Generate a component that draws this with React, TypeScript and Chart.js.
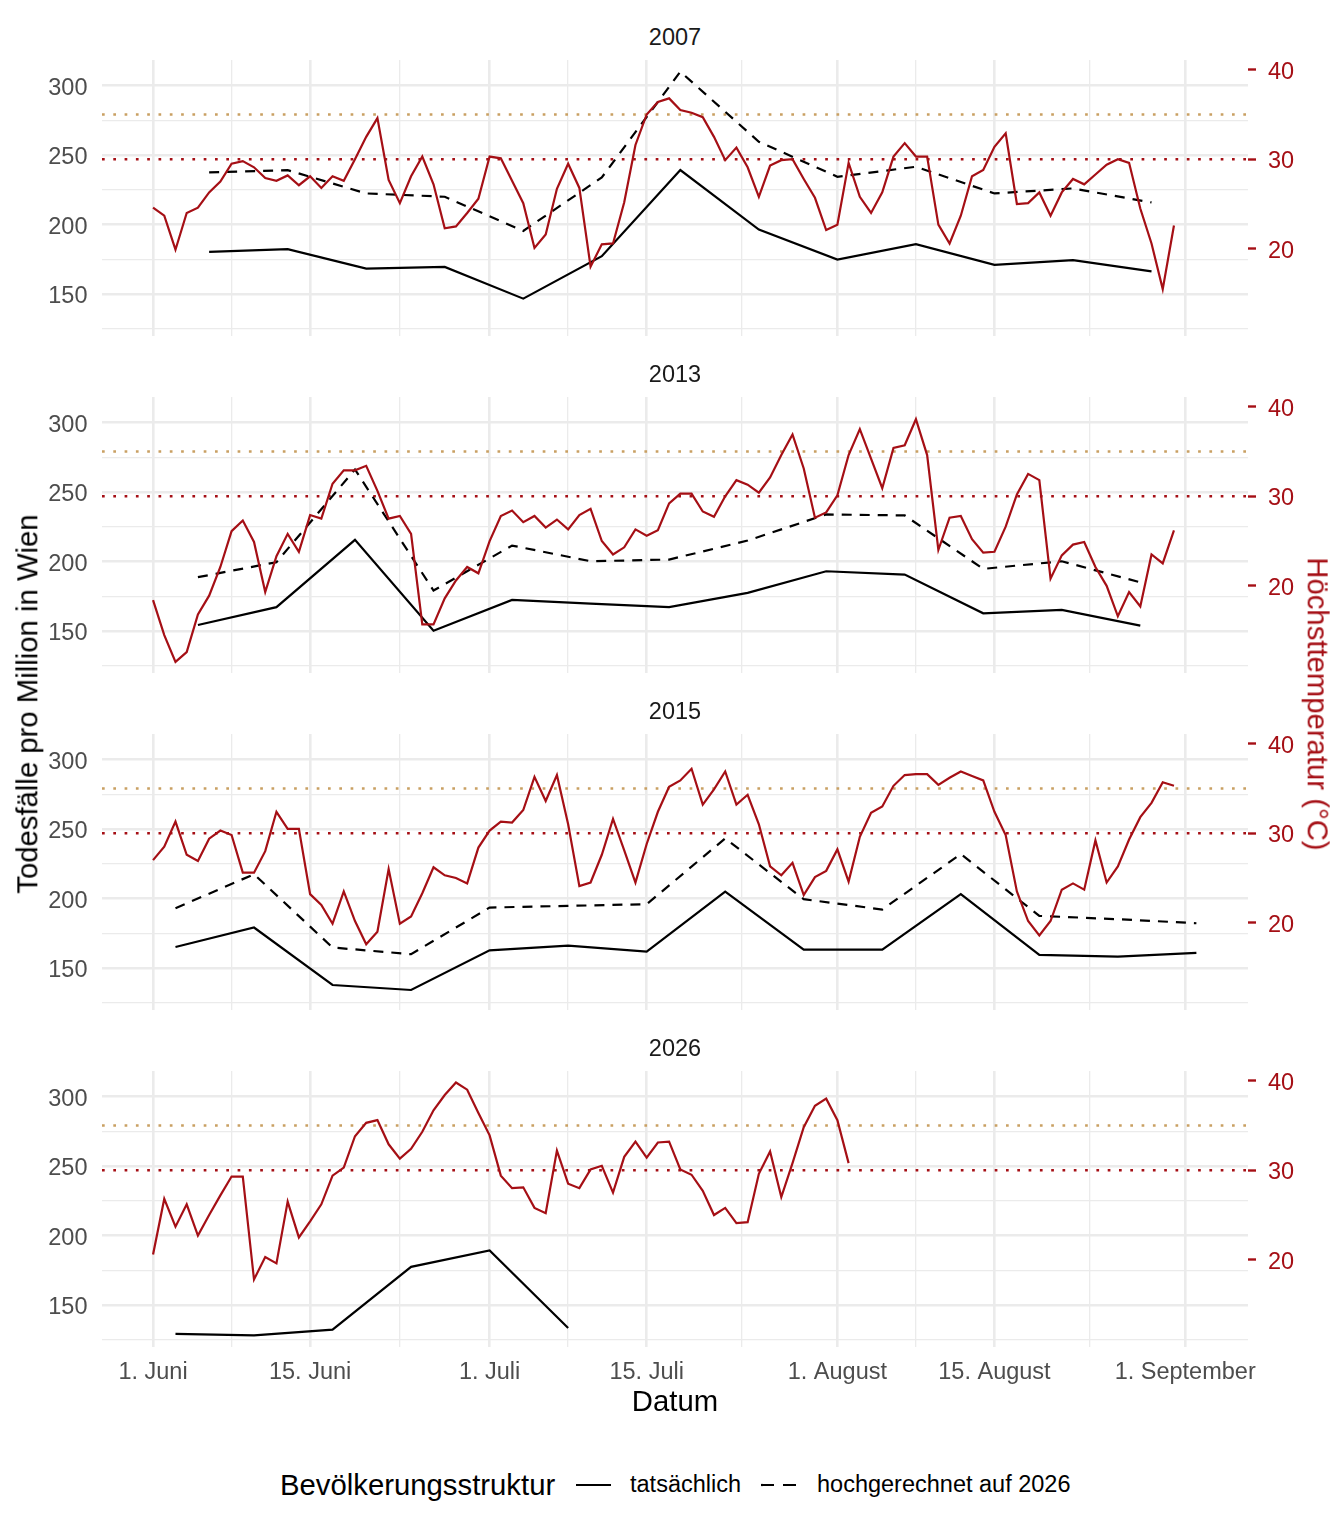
import React, { useEffect, useRef } from "react";
import { Chart, registerables } from "chart.js";

Chart.register(...registerables);

const FONT = "'Liberation Sans', Arial, Helvetica, sans-serif";
const RED = "#a50f15";
const TAN = "#c9a063";
const GRID = "#ebebeb";
const AXIS_TEXT = "#4d4d4d";

// x axis in days since 1 June
const X_MIN = -4.55;
const X_MAX = 97.6;
const MAJOR_DAYS = [0, 14, 30, 44, 61, 75, 92];
const MAJOR_LABELS = ["1. Juni", "15. Juni", "1. Juli", "15. Juli", "1. August", "15. August", "1. September"];
const MINOR_DAYS = [7, 22, 37, 52.5, 68, 83.5];

// left axis (deaths per million) and secondary temperature axis
const DEATH_MIN = 119.7;
const DEATH_MAX = 318.5;
const DEATH_TICKS = [125, 150, 175, 200, 225, 250, 275, 300];
const TEMP_TICKS = [20, 30, 40];
const TEMP_SCALE = 6.45;
const TEMP_OFFSET = 53.5;
const THRESHOLDS = [30, 35];

// daily maximum temperature, from 1 June
const TEMP_2007 = [
  24.6, 23.7, 19.9, 24.0, 24.6, 26.3, 27.5, 29.5, 29.8, 29.1,
  27.9, 27.6, 28.2, 27.1, 28.1, 26.8, 28.1, 27.6, 30.0, 32.5,
  34.6, 27.7, 25.1, 28.1, 30.3, 27.2, 22.3, 22.5, 24.0, 25.6,
  30.3, 30.1, 27.6, 25.1, 20.1, 21.6, 26.7, 29.5, 26.8, 18.0,
  20.5, 20.6, 25.2, 31.6, 35.0, 36.4, 36.8, 35.5, 35.2, 34.7,
  32.5, 29.9, 31.3, 29.1, 25.8, 29.3, 29.9, 30.0, 27.8, 25.7,
  22.1, 22.7, 29.6, 25.8, 24.0, 26.3, 30.3, 31.8, 30.3, 30.3,
  22.7, 20.6, 23.7, 28.1, 28.8, 31.4, 32.9, 25.0, 25.1, 26.3,
  23.7, 26.3, 27.8, 27.2, 28.3, 29.4, 30.0, 29.6, 24.5, 20.6,
  15.5, 22.6,
];
const TEMP_2013 = [
  18.4, 14.5, 11.5, 12.6, 16.8, 18.9, 22.1, 26.1, 27.3, 24.9,
  19.3, 23.3, 25.8, 23.8, 27.9, 27.5, 31.4, 32.9, 32.9, 33.4,
  30.6, 27.5, 27.8, 25.8, 15.7, 15.7, 18.6, 20.6, 22.1, 21.4,
  25.0, 27.8, 28.4, 27.1, 27.8, 26.5, 27.4, 26.3, 27.9, 28.6,
  25.0, 23.5, 24.3, 26.3, 25.6, 26.2, 29.2, 30.3, 30.3, 28.3,
  27.7, 30.0, 31.8, 31.3, 30.4, 32.1, 34.6, 36.9, 33.1, 27.6,
  28.2, 30.1, 34.6, 37.5, 34.2, 30.9, 35.4, 35.7, 38.6, 34.6,
  24.0, 27.6, 27.8, 25.2, 23.7, 23.8, 26.6, 30.2, 32.5, 31.8,
  20.8, 23.4, 24.6, 24.9, 22.1, 20.0, 16.6, 19.3, 17.7, 23.5,
  22.5, 26.2,
];
const TEMP_2015 = [
  27.0, 28.5, 31.3, 27.6, 26.9, 29.4, 30.3, 29.8, 25.6, 25.6,
  28.0, 32.4, 30.5, 30.5, 23.2, 22.0, 19.9, 23.5, 20.2, 17.6,
  19.0, 26.0, 19.9, 20.7, 23.3, 26.2, 25.3, 25.0, 24.4, 28.4,
  30.3, 31.3, 31.2, 32.6, 36.3, 33.6, 36.5, 31.0, 24.1, 24.5,
  27.6, 31.6, 28.1, 24.5, 28.8, 32.4, 35.2, 35.9, 37.2, 33.2,
  34.9, 36.9, 33.2, 34.3, 31.0, 26.3, 25.3, 26.7, 23.1, 25.1,
  25.8, 28.2, 24.6, 29.6, 32.3, 33.0, 35.3, 36.5, 36.6, 36.6,
  35.4, 36.2, 36.9, 36.4, 35.9, 32.4, 29.8, 23.5, 20.2, 18.6,
  20.2, 23.7, 24.4, 23.7, 29.2, 24.5, 26.3, 29.3, 31.8, 33.4,
  35.7, 35.3,
];
const TEMP_2026 = [
  20.6, 26.8, 23.7, 26.2, 22.7, 25.0, 27.2, 29.3, 29.3, 17.8,
  20.3, 19.6, 26.5, 22.5, 24.3, 26.2, 29.4, 30.3, 33.8, 35.3,
  35.6, 32.9, 31.3, 32.4, 34.3, 36.7, 38.4, 39.8, 39.0, 36.4,
  33.9, 29.4, 28.0, 28.1, 25.8, 25.2, 32.2, 28.5, 28.0, 30.1,
  30.5, 27.5, 31.5, 33.2, 31.4, 33.1, 33.2, 30.1, 29.5, 27.7,
  25.0, 25.8, 24.1, 24.2, 29.6, 32.1, 27.0, 30.8, 34.8, 37.2,
  38.0, 35.6, 30.8,
];

// weekly deaths per million: actual and projected to the 2026 population
const WEEKS_2007 = [5, 12, 19, 26, 33, 40, 47, 54, 61, 68, 75, 82, 89];
const ACTUAL_2007 = [180.3, 182.2, 168.3, 169.5, 146.6, 177.2, 239.2, 196.4, 174.8, 185.8, 170.9, 174.3, 166.3];
const PROJECTED_2007 = [237.5, 239.2, 222.4, 220.0, 195.4, 233.9, 310.1, 259.6, 234.4, 241.6, 222.4, 226.0, 215.9];

const WEEKS_2013 = [4, 11, 18, 25, 32, 39, 46, 53, 60, 67, 74, 81, 88];
const ACTUAL_2013 = [154.3, 167.1, 215.6, 150.2, 172.3, 169.6, 167.1, 177.4, 193.0, 190.6, 162.7, 165.1, 153.8];
const PROJECTED_2013 = [188.7, 199.5, 266.3, 179.1, 211.5, 200.2, 201.4, 215.1, 233.9, 233.2, 194.7, 200.2, 185.0];

const WEEKS_2015 = [2, 9, 16, 23, 30, 37, 44, 51, 58, 65, 72, 79, 86, 93];
const ACTUAL_2015 = [165.1, 179.1, 137.7, 134.1, 162.7, 166.1, 161.8, 205.0, 163.2, 163.2, 203.1, 159.4, 158.2, 160.8];
const PROJECTED_2015 = [193.0, 217.5, 164.7, 159.9, 193.5, 194.7, 195.9, 243.3, 199.5, 192.1, 232.0, 187.5, 185.1, 182.2];

const WEEKS_2026 = [2, 9, 16, 23, 30, 37];
const ACTUAL_2026 = [129.1, 128.1, 132.2, 177.4, 189.2, 133.4];
const PROJECTED_2026: number[] = [];

const PANEL_TOPS = [60, 397, 734, 1071];
const PANEL_H = 276;
const PAD_TOP = 32;
const X_AXIS_H = 40;
const LEFT_W = 102;
const RIGHT_W = 96;

type PanelProps = {
  year: string;
  temp: number[];
  weeks: number[];
  actual: number[];
  projected: number[];
  top: number;
  showX: boolean;
};

const Panel: React.FC<PanelProps> = ({ year, temp, weeks, actual, projected, top, showX }) => {
  const canvasRef = useRef<HTMLCanvasElement | null>(null);
  const chartRef = useRef<any>(null);

  useEffect(() => {
    if (!canvasRef.current) return;
    const ctx = canvasRef.current.getContext("2d");
    if (!ctx) return;
    if (chartRef.current) chartRef.current.destroy();

    const weekly = (vals: number[]) => vals.map((v, i) => ({ x: weeks[i], y: v }));
    const datasets: any[] = [
      {
        data: temp.map((v, i) => ({ x: i, y: v })),
        yAxisID: "yT",
        borderColor: RED,
        borderWidth: 2.2,
        pointRadius: 0,
      },
      {
        data: weekly(actual),
        yAxisID: "y",
        borderColor: "#000",
        borderWidth: 2.2,
        pointRadius: 0,
      },
    ];
    if (projected.length) {
      datasets.push({
        data: weekly(projected),
        yAxisID: "y",
        borderColor: "#000",
        borderWidth: 2.2,
        borderDash: [10, 8],
        pointRadius: 0,
      });
    }
    THRESHOLDS.forEach((t, i) => {
      datasets.push({
        data: [{ x: X_MIN, y: t }, { x: X_MAX, y: t }],
        yAxisID: "yT",
        borderColor: i === 0 ? RED : TAN,
        borderWidth: 2.7,
        borderDash: [2.7, 8.6],
        pointRadius: 0,
      });
    });

    chartRef.current = new Chart(ctx, {
      type: "line",
      data: { datasets },
      options: {
        animation: false,
        responsive: false,
        events: [],
        layout: { padding: { top: PAD_TOP, left: 0, right: 0, bottom: 0 } },
        plugins: { legend: { display: false }, tooltip: { enabled: false } },
        scales: {
          x: {
            type: "linear",
            min: X_MIN,
            max: X_MAX,
            afterBuildTicks: (s: any) => {
              s.ticks = [...MAJOR_DAYS, ...MINOR_DAYS].sort((a, b) => a - b).map((v) => ({ value: v }));
            },
            afterFit: (s: any) => {
              s.height = X_AXIS_H;
            },
            border: { display: false },
            grid: {
              color: GRID,
              lineWidth: (c: any) => (c.tick && MAJOR_DAYS.includes(c.tick.value) ? 2.6 : 1.3),
              drawTicks: false,
            },
            ticks: {
              display: showX,
              autoSkip: false,
              maxRotation: 0,
              padding: 11,
              color: AXIS_TEXT,
              font: { family: FONT, size: 23.5 },
              callback: (v: any) => {
                const i = MAJOR_DAYS.indexOf(Number(v));
                return i >= 0 ? MAJOR_LABELS[i] : "";
              },
            },
          },
          y: {
            position: "left",
            min: DEATH_MIN,
            max: DEATH_MAX,
            afterBuildTicks: (s: any) => {
              s.ticks = DEATH_TICKS.map((v) => ({ value: v }));
            },
            afterFit: (s: any) => {
              s.width = LEFT_W;
            },
            border: { display: false },
            grid: {
              color: GRID,
              lineWidth: (c: any) => (c.tick && c.tick.value % 50 === 0 ? 2.6 : 1.3),
              drawTicks: false,
            },
            ticks: {
              padding: 14.5,
              labelOffset: 2.5,
              color: AXIS_TEXT,
              font: { family: FONT, size: 23.5 },
              callback: (v: any) => (Number(v) % 50 === 0 ? String(v) : ""),
            },
          },
          yT: {
            position: "right",
            min: (DEATH_MIN - TEMP_OFFSET) / TEMP_SCALE,
            max: (DEATH_MAX - TEMP_OFFSET) / TEMP_SCALE,
            afterBuildTicks: (s: any) => {
              s.ticks = TEMP_TICKS.map((v) => ({ value: v }));
            },
            afterFit: (s: any) => {
              s.width = RIGHT_W;
            },
            border: { display: false },
            grid: {
              drawOnChartArea: false,
              drawTicks: true,
              tickLength: 8,
              tickColor: RED,
              tickWidth: 2.4,
            },
            ticks: {
              padding: 12,
              labelOffset: 2.5,
              color: RED,
              font: { family: FONT, size: 23.5 },
              callback: (v: any) => String(v),
            },
          },
        },
      } as any,
    });

    return () => {
      chartRef.current?.destroy();
      chartRef.current = null;
    };
  }, []);

  return (
    <>
      <div
        style={{
          position: "absolute",
          left: LEFT_W,
          width: 1344 - LEFT_W - RIGHT_W,
          top: top - 22,
          transform: "translateY(-50%)",
          textAlign: "center",
          fontSize: 23.5,
          lineHeight: 1,
          color: "#1a1a1a",
        }}
      >
        {year}
      </div>
      <canvas
        ref={canvasRef}
        width={1344}
        height={PAD_TOP + PANEL_H + X_AXIS_H}
        style={{ position: "absolute", left: 0, top: top - PAD_TOP, width: 1344, height: PAD_TOP + PANEL_H + X_AXIS_H }}
      />
    </>
  );
};

const LegendKey: React.FC<{ dashed?: boolean; left: number }> = ({ dashed, left }) => (
  <svg width={35} height={10} style={{ position: "absolute", left, top: 1480 }}>
    <line x1={0} y1={5} x2={35} y2={5} stroke="#000" strokeWidth={2.2} strokeDasharray={dashed ? "13 9" : undefined} />
  </svg>
);

const App: React.FC = () => {
  const panels = [
    { year: "2007", temp: TEMP_2007, weeks: WEEKS_2007, actual: ACTUAL_2007, projected: PROJECTED_2007 },
    { year: "2013", temp: TEMP_2013, weeks: WEEKS_2013, actual: ACTUAL_2013, projected: PROJECTED_2013 },
    { year: "2015", temp: TEMP_2015, weeks: WEEKS_2015, actual: ACTUAL_2015, projected: PROJECTED_2015 },
    { year: "2026", temp: TEMP_2026, weeks: WEEKS_2026, actual: ACTUAL_2026, projected: PROJECTED_2026 },
  ];
  const centerY = (PANEL_TOPS[0] + PANEL_TOPS[3] + PANEL_H) / 2;

  return (
    <div
      style={{
        position: "absolute",
        left: 0,
        top: 0,
        width: 1344,
        height: 1536,
        background: "#fff",
        fontFamily: FONT,
        overflow: "hidden",
      }}
    >
      {panels.map((p, i) => (
        <Panel key={p.year} {...p} top={PANEL_TOPS[i]} showX={i === panels.length - 1} />
      ))}
      <div
        style={{
          position: "absolute",
          left: 27,
          top: centerY,
          transform: "translate(-50%, -50%) rotate(-90deg)",
          whiteSpace: "nowrap",
          fontSize: 29.3,
          lineHeight: 1,
          color: "#000",
        }}
      >
        Todesfälle pro Million in Wien
      </div>
      <div
        style={{
          position: "absolute",
          left: 1318,
          top: centerY,
          transform: "translate(-50%, -50%) rotate(90deg)",
          whiteSpace: "nowrap",
          fontSize: 29.3,
          lineHeight: 1,
          color: RED,
        }}
      >
        Höchsttemperatur (°C)
      </div>
      <div
        style={{
          position: "absolute",
          left: LEFT_W,
          width: 1344 - LEFT_W - RIGHT_W,
          top: 1401,
          transform: "translateY(-50%)",
          textAlign: "center",
          fontSize: 29.3,
          lineHeight: 1,
          color: "#000",
        }}
      >
        Datum
      </div>
      <div style={{ position: "absolute", left: 280, top: 1485, transform: "translateY(-50%)", fontSize: 29.3, lineHeight: 1 }}>
        Bevölkerungsstruktur
      </div>
      <LegendKey left={576} />
      <div style={{ position: "absolute", left: 630, top: 1485, transform: "translateY(-50%)", fontSize: 23.5, lineHeight: 1 }}>
        tatsächlich
      </div>
      <LegendKey left={761} dashed />
      <div style={{ position: "absolute", left: 817, top: 1485, transform: "translateY(-50%)", fontSize: 23.5, lineHeight: 1 }}>
        hochgerechnet auf 2026
      </div>
    </div>
  );
};

export default App;
